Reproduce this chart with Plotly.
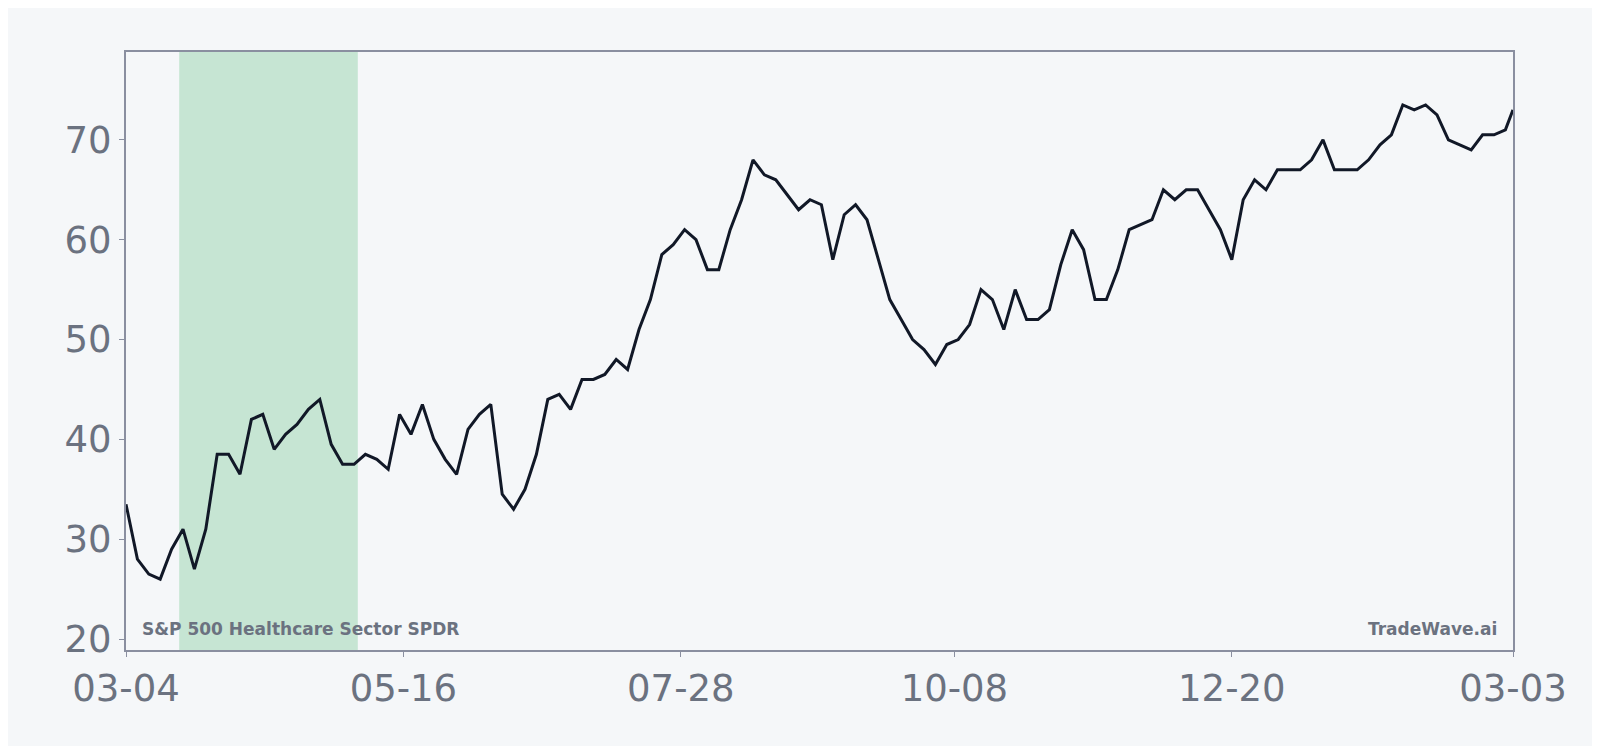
import plotly.graph_objects as go
import pandas as pd

# price, one value every 3 days from 2023-03-04
prices = [33.5, 28, 26.5, 26, 29, 31, 27, 31, 38.5, 38.5,
          36.5, 42, 42.5, 39, 40.5, 41.5, 43, 44, 39.5, 37.5,
          37.5, 38.5, 38, 37, 42.5, 40.5, 43.5, 40, 38, 36.5,
          41, 42.5, 43.5, 34.5, 33, 35, 38.5, 44, 44.5, 43,
          46, 46, 46.5, 48, 47, 51, 54, 58.5, 59.5, 61,
          60, 57, 57, 61, 64, 68, 66.5, 66, 64.5, 63,
          64, 63.5, 58, 62.5, 63.5, 62, 58, 54, 52, 50,
          49, 47.5, 49.5, 50, 51.5, 55, 54, 51, 55, 52,
          52, 53, 57.5, 61, 59, 54, 54, 57, 61, 61.5,
          62, 65, 64, 65, 65, 63, 61, 58, 64, 66,
          65, 67, 67, 67, 68, 70, 67, 67, 67, 68,
          69.5, 70.5, 73.5, 73, 73.5, 72.5, 70, 69.5, 69, 70.5,
          70.5, 71, 73]
dates = list(pd.date_range("2023-03-04", periods=len(prices) - 1, freq="3D")) + [pd.Timestamp("2024-03-03")]

tick_dates = ["2023-03-04", "2023-05-16", "2023-07-28", "2023-10-08", "2023-12-20", "2024-03-03"]
tick_text = ["03-04", "05-16", "07-28", "10-08", "12-20", "03-03"]
shade = ["2023-03-18", "2023-05-04"]

bg = "#f5f7f9"
grey = "#6b7280"

fig = go.Figure(go.Scatter(x=dates, y=prices, mode="lines",
                           line=dict(color="#111827", width=3)))

fig.add_vrect(x0=shade[0], x1=shade[1], fillcolor="#c6e5d3", opacity=1,
              line_width=0, layer="below")

fig.add_annotation(text="S&P 500 Healthcare Sector SPDR", xref="paper", yref="paper",
                   x=0.01, y=0.015, xanchor="left", yanchor="bottom", showarrow=False,
                   font=dict(size=17, color=grey, family="DejaVu Sans", weight="bold"))
fig.add_annotation(text="TradeWave.ai", xref="paper", yref="paper",
                   x=0.99, y=0.015, xanchor="right", yanchor="bottom", showarrow=False,
                   font=dict(size=17, color=grey, family="DejaVu Sans", weight="bold"))

fig.update_layout(
    width=1600, height=746,
    paper_bgcolor=bg, plot_bgcolor=bg,
    margin=dict(l=118, r=95, t=44, b=104),
    showlegend=False,
    font=dict(family="DejaVu Sans", color=grey),
)
fig.update_xaxes(range=["2023-03-04", "2024-03-03"], tickvals=tick_dates, ticktext=tick_text,
                 tickfont=dict(size=37, color=grey), showgrid=False, zeroline=False,
                 showline=True, linecolor="#8a8fa0", linewidth=2, mirror=True,
                 ticks="outside", ticklen=5, tickcolor="#8a8fa0")
fig.update_yaxes(range=[18.9, 78.8], tickvals=[20, 30, 40, 50, 60, 70],
                 tickfont=dict(size=37, color=grey), showgrid=False, zeroline=False,
                 showline=True, linecolor="#8a8fa0", linewidth=2, mirror=True,
                 ticks="outside", ticklen=5, tickcolor="#8a8fa0")

fig.write_html("out.html")
